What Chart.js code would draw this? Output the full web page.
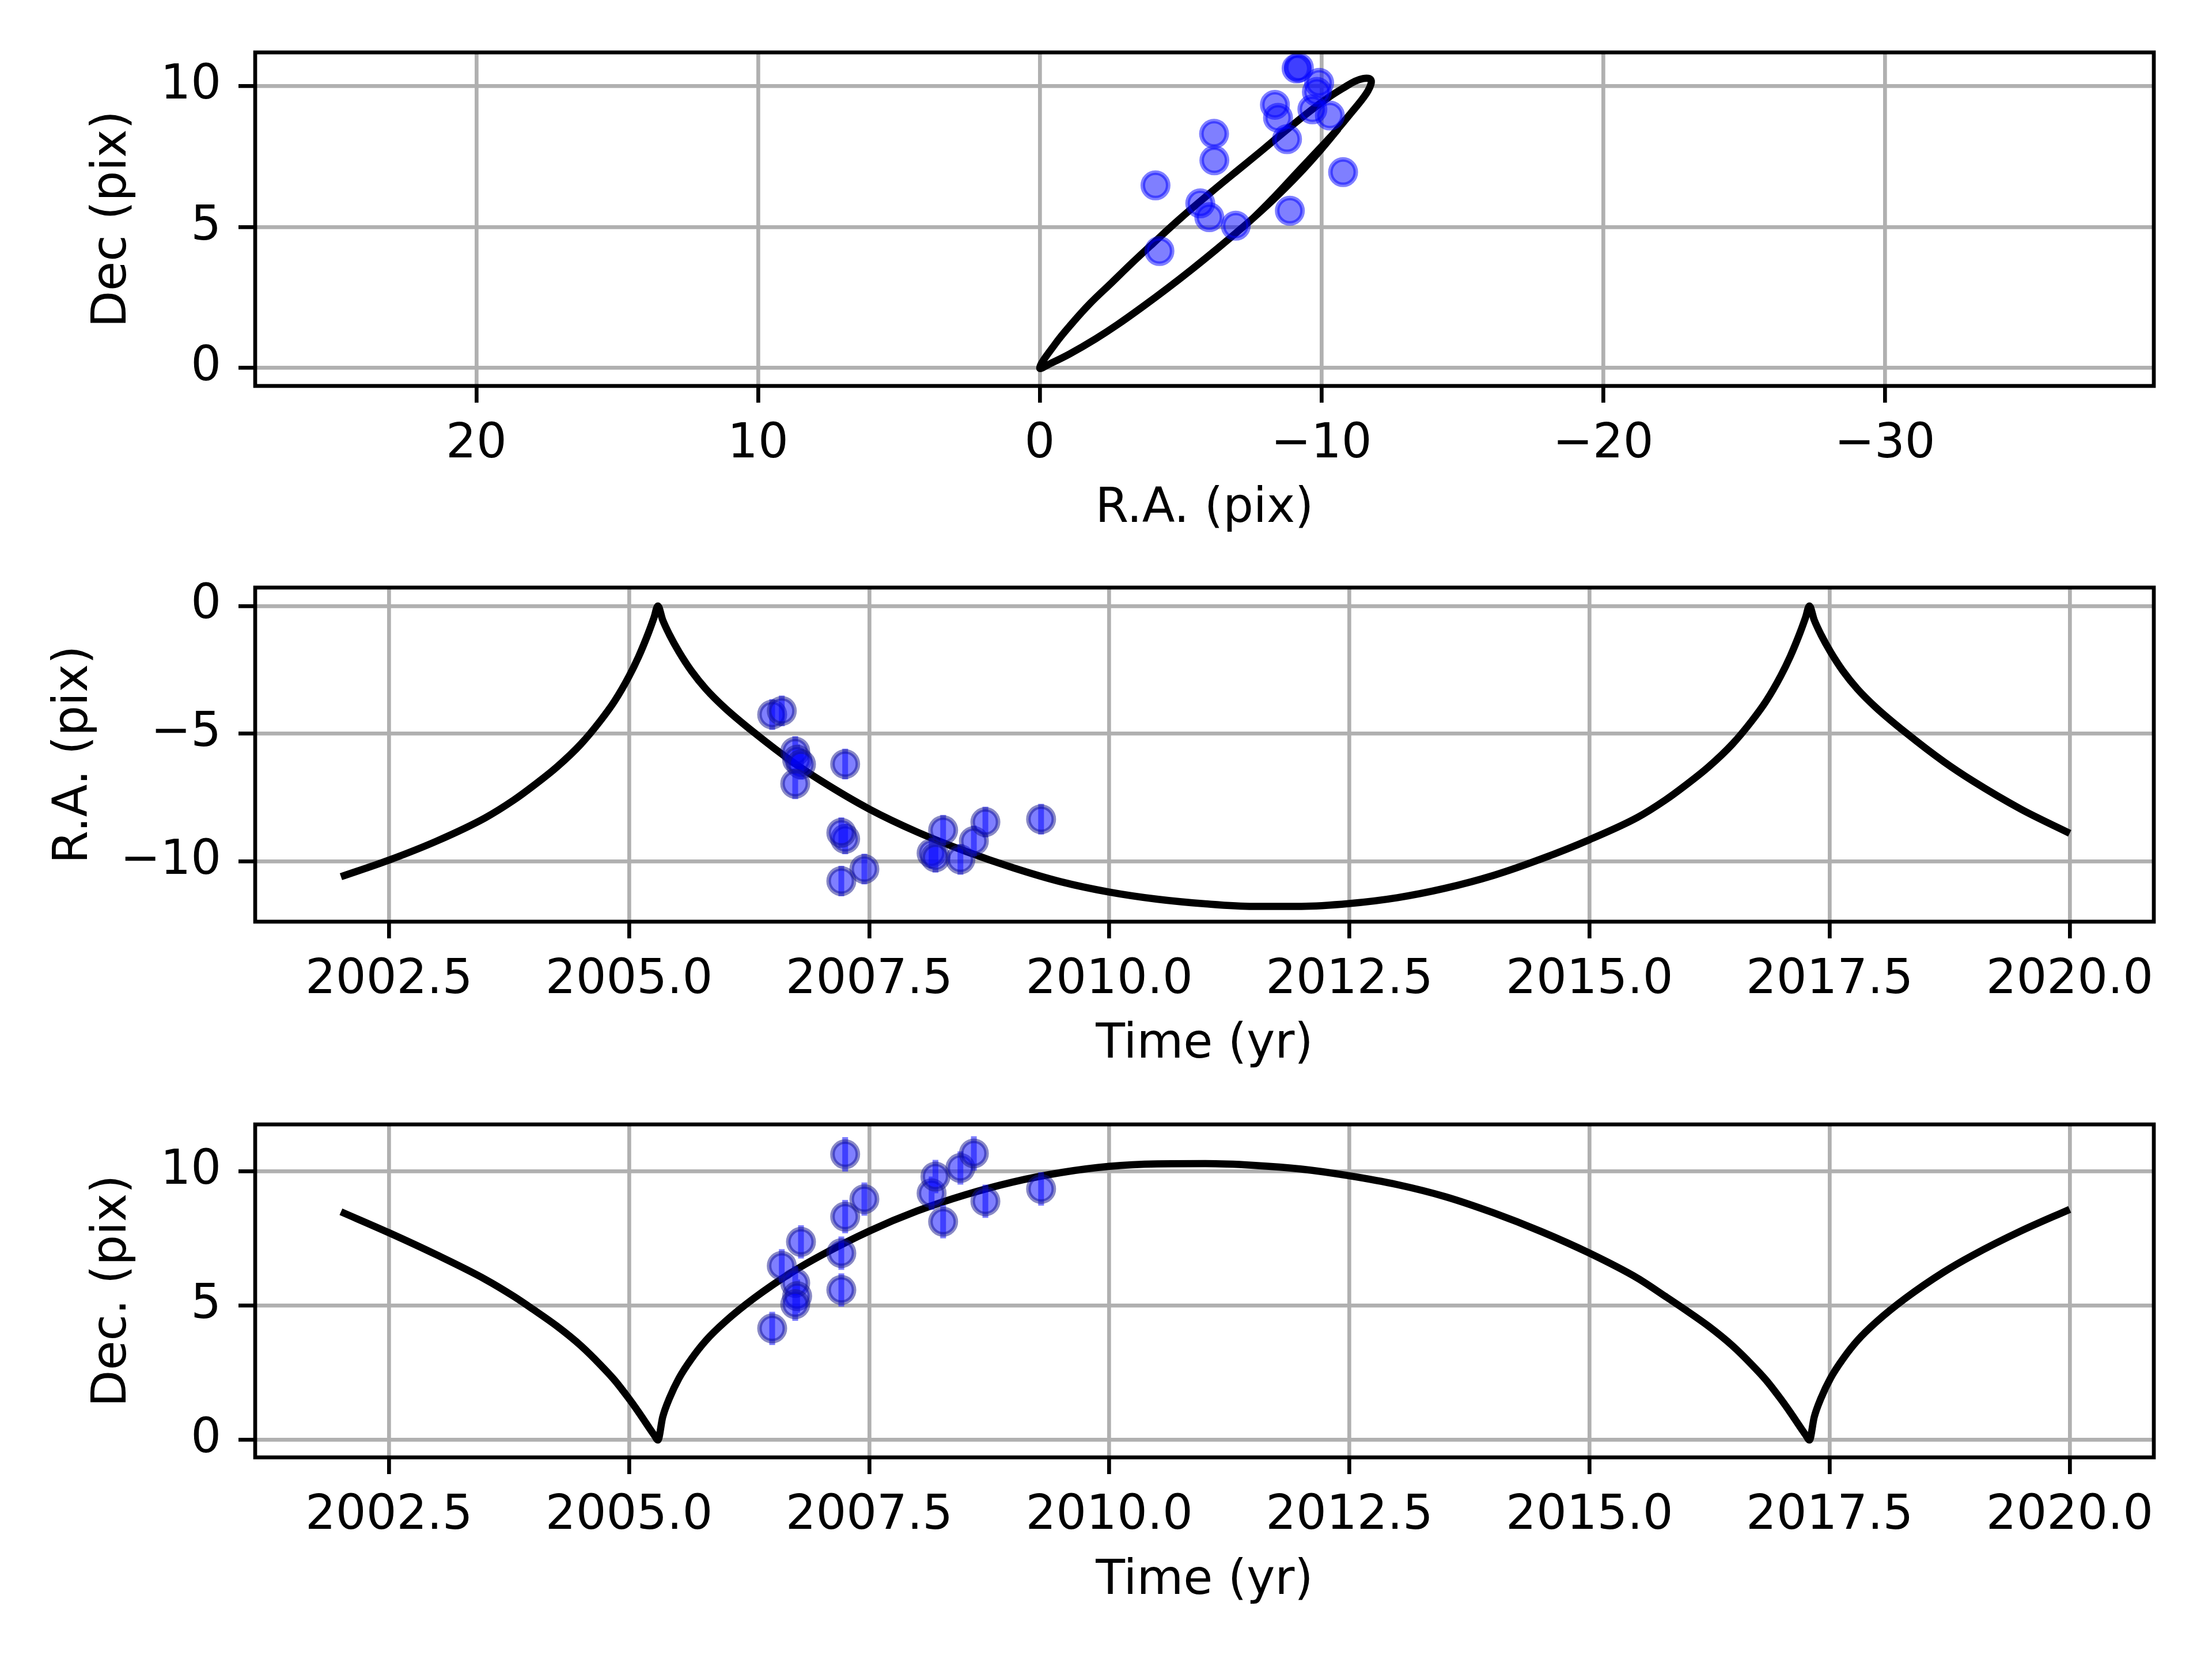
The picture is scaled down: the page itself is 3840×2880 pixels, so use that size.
<!DOCTYPE html>
<html>
<head>
<meta charset="utf-8">
<script src="https://cdn.jsdelivr.net/npm/chart.js@4.4.1/dist/chart.umd.min.js"></script>
<style>
  html, body { margin: 0; padding: 0; background: #fff; }
  #wrap { position: relative; width: 3840px; height: 2880px; background: #fff; }
  canvas { position: absolute; left: 0; }
</style>
</head>
<body>
<div id="wrap">
  <canvas id="orbit" width="3840" height="960" style="top:0px;width:3840px;height:960px"></canvas>
  <canvas id="raTime" width="3840" height="940" style="top:960px;width:3840px;height:940px"></canvas>
  <canvas id="decTime" width="3840" height="980" style="top:1900px;width:3840px;height:980px"></canvas>
</div>
<script>
const obsT   = [2006.49, 2006.59, 2006.73, 2006.75, 2006.79, 2006.73, 2007.25, 2007.25, 2007.21, 2007.21,
                2007.45, 2008.15, 2008.19, 2008.27, 2008.45, 2008.59, 2008.71, 2009.29]
const obsRa  = [-4.25, -4.11, -5.70, -6.02, -6.20, -6.96, -6.19, -9.12, -8.88, -10.77,
                -10.30, -9.68, -9.84, -8.78, -9.92, -9.20, -8.46, -8.35]
const obsDec = [4.15, 6.48, 5.84, 5.35, 7.37, 5.05, 8.31, 10.63, 5.58, 6.95,
                8.96, 9.18, 9.80, 8.12, 10.12, 10.66, 8.88, 9.34]
const raErr  = [0.6, 0.6, 0.6, 0.6, 0.6, 0.6, 0.6, 0.6, 0.6, 0.6,
                0.6, 0.6, 0.6, 0.6, 0.6, 0.6, 0.6, 0.6]
const decErr = [0.62, 0.62, 0.62, 0.62, 0.62, 0.62, 0.62, 0.64, 0.62, 0.62,
                0.62, 0.62, 0.62, 0.62, 0.62, 0.64, 0.62, 0.62]

// orbit model curve
const fitT = [2002.0, 2002.5, 2003.0, 2003.5, 2003.8, 2004.0, 2004.25, 2004.5, 2004.7, 2004.85,
              2005.0, 2005.1, 2005.2, 2005.26, 2005.3,
              2005.35, 2005.42, 2005.52, 2005.65, 2005.8, 2006.0, 2006.3, 2006.7, 2007.0, 2007.5,
              2008.0, 2008.5, 2009.0, 2009.5, 2010.0, 2010.5, 2011.0, 2011.5, 2012.0, 2012.5,
              2013.0, 2013.5, 2014.0, 2014.5, 2015.0, 2015.5, 2015.79, 2015.99, 2016.24, 2016.49,
              2016.69, 2016.84, 2016.99, 2017.09, 2017.19, 2017.25, 2017.29,
              2017.34, 2017.41, 2017.51, 2017.64, 2017.79, 2017.99, 2018.29, 2018.69, 2018.99, 2019.49, 2020.0]
const fitRa = [-10.6, -9.95, -9.2, -8.3, -7.6, -7.05, -6.3, -5.4, -4.5, -3.72,
               -2.75, -1.98, -1.07, -0.45, 0,
               -0.55, -1.12, -1.8, -2.55, -3.25, -4.0, -4.95, -6.1, -6.85, -7.95,
               -8.85, -9.6, -10.25, -10.8, -11.2, -11.48, -11.66, -11.76, -11.76, -11.65,
               -11.42, -11.05, -10.55, -9.9, -9.15, -8.28, -7.6, -7.05, -6.3, -5.4,
               -4.5, -3.72, -2.75, -1.98, -1.07, -0.45, 0,
               -0.55, -1.12, -1.8, -2.55, -3.25, -4.0, -4.95, -6.1, -6.85, -7.95, -8.9]
const fitDec = [8.49, 7.71, 6.88, 5.98, 5.34, 4.86, 4.23, 3.5, 2.8, 2.22,
                1.53, 1.03, 0.5, 0.19, 0,
                0.85, 1.55, 2.3, 3.02, 3.7, 4.4, 5.27, 6.25, 6.87, 7.77,
                8.52, 9.12, 9.6, 9.95, 10.18, 10.27, 10.28, 10.22, 10.08, 9.83,
                9.5, 9.05, 8.45, 7.75, 6.95, 6.02, 5.34, 4.86, 4.23, 3.5,
                2.8, 2.22, 1.53, 1.03, 0.5, 0.19, 0,
                0.85, 1.55, 2.3, 3.02, 3.7, 4.4, 5.27, 6.25, 6.87, 7.77, 8.58]

// ticks
const skyXTicks = [20, 10, 0, -10, -20, -30]
const skyYTicks = [0, 5, 10]
const timeTicks = [2002.5, 2005.0, 2007.5, 2010.0, 2012.5, 2015.0, 2017.5, 2020.0]
const raTicks = [-10, -5, 0]
const decTicks = [0, 5, 10]

Chart.defaults.font.family = "'DejaVu Sans', sans-serif"
Chart.defaults.font.size = 83
Chart.defaults.color = '#000'

const THIN = 6.7
const CURVE = 12.5
const DOT = 'rgba(0, 0, 255, 0.5)'
const DOT_EDGE = 'rgba(20, 20, 140, 0.5)'

const minusFmt = v => (v < 0 ? '\u2212' + Math.abs(v) : String(v))
const yearFmt = v => v.toFixed(1)
const fixTicks = values => scale => { scale.ticks = values.map(v => ({ value: v })) }

const gridOpts = {
  color: '#b0b0b0',
  lineWidth: THIN,
  tickColor: '#000',
  tickWidth: THIN,
  tickLength: 29
}

const framePlugin = {
  id: 'frame',
  afterDatasetsDraw(chart) {
    const a = chart.chartArea
    const c = chart.ctx
    c.save()
    c.strokeStyle = '#000'
    c.lineWidth = THIN
    c.strokeRect(a.left, a.top, a.right - a.left, a.bottom - a.top)
    c.restore()
  }
}

function errSegments(t, v, e) {
  const out = []
  t.forEach((ti, i) => {
    out.push({ x: ti, y: v[i] - e[i] }, { x: ti, y: v[i] + e[i] }, { x: ti, y: null })
  })
  return out
}

function noPad(s) {
  s.paddingTop = 0
  s.paddingBottom = 0
  s.paddingLeft = 0
  s.paddingRight = 0
}

function xAxis(min, max, ticks, fmt, title, height, titleBottom, reverse) {
  return {
    type: 'linear', min, max, reverse: !!reverse, bounds: 'data',
    afterBuildTicks: fixTicks(ticks),
    afterFit: s => { s.height = height; noPad(s) },
    ticks: { callback: fmt, padding: 24, maxRotation: 0, autoSkip: false },
    grid: gridOpts,
    border: { display: false },
    title: { display: true, text: title, padding: { top: 0, bottom: titleBottom } }
  }
}

function yAxis(min, max, ticks, title, titleTop) {
  return {
    type: 'linear', min, max, bounds: 'data',
    afterBuildTicks: fixTicks(ticks),
    afterFit: s => { s.width = 443; noPad(s) },
    ticks: { callback: minusFmt, padding: 30, autoSkip: false },
    grid: gridOpts,
    border: { display: false },
    title: { display: true, text: title, padding: { top: titleTop, bottom: 0 } }
  }
}

function baseOptions(padTop) {
  return {
    responsive: false,
    animation: false,
    devicePixelRatio: 1,
    layout: { padding: { top: padTop, right: 101, bottom: 0, left: 0 } },
    plugins: { legend: { display: false }, tooltip: { enabled: false } }
  }
}

// panel 1: sky plane
const skyOpts = baseOptions(91)
skyOpts.scales = {
  x: xAxis(-39.55, 27.85, skyXTicks, minusFmt, 'R.A. (pix)', 290, 26, true),
  y: yAxis(-0.64, 11.2, skyYTicks, 'Dec (pix)', 147)
}
new Chart(document.getElementById('orbit'), {
  type: 'scatter',
  data: {
    datasets: [
      {
        data: obsRa.map((v, i) => ({ x: v, y: obsDec[i] })),
        pointRadius: 22, pointBorderWidth: 8,
        pointBackgroundColor: DOT, pointBorderColor: DOT
      },
      {
        data: fitRa.map((v, i) => ({ x: v, y: fitDec[i] })),
        showLine: true, pointRadius: 0, borderColor: '#000', borderWidth: CURVE, tension: 0.4
      }
    ]
  },
  options: skyOpts,
  plugins: [framePlugin]
})

// panel 2: R.A. against time
const raOpts = baseOptions(60)
raOpts.scales = {
  x: xAxis(2001.107, 2020.876, timeTicks, yearFmt, 'Time (yr)', 300, 36),
  y: yAxis(-12.36, 0.72, raTicks, 'R.A. (pix)', 80)
}
new Chart(document.getElementById('raTime'), {
  type: 'scatter',
  data: {
    datasets: [
      {
        data: obsT.map((t, i) => ({ x: t, y: obsRa[i] })),
        pointRadius: 22, pointBorderWidth: 8,
        pointBackgroundColor: DOT, pointBorderColor: DOT_EDGE
      },
      {
        data: errSegments(obsT, obsRa, raErr),
        showLine: true, spanGaps: false, pointRadius: 0, borderColor: DOT, borderWidth: 10
      },
      {
        data: fitT.map((t, i) => ({ x: t, y: fitRa[i] })),
        showLine: true, pointRadius: 0, borderColor: '#000', borderWidth: CURVE,
        cubicInterpolationMode: 'monotone'
      }
    ]
  },
  options: raOpts,
  plugins: [framePlugin]
})

// panel 3: Dec against time
const decOpts = baseOptions(52)
decOpts.scales = {
  x: xAxis(2001.107, 2020.876, timeTicks, yearFmt, 'Time (yr)', 350, 85),
  y: yAxis(-0.65, 11.74, decTicks, 'Dec. (pix)', 147)
}
new Chart(document.getElementById('decTime'), {
  type: 'scatter',
  data: {
    datasets: [
      {
        data: obsT.map((t, i) => ({ x: t, y: obsDec[i] })),
        pointRadius: 22, pointBorderWidth: 8,
        pointBackgroundColor: DOT, pointBorderColor: DOT_EDGE
      },
      {
        data: errSegments(obsT, obsDec, decErr),
        showLine: true, spanGaps: false, pointRadius: 0, borderColor: DOT, borderWidth: 10
      },
      {
        data: fitT.map((t, i) => ({ x: t, y: fitDec[i] })),
        showLine: true, pointRadius: 0, borderColor: '#000', borderWidth: CURVE,
        cubicInterpolationMode: 'monotone'
      }
    ]
  },
  options: decOpts,
  plugins: [framePlugin]
})
</script>
</body>
</html>
